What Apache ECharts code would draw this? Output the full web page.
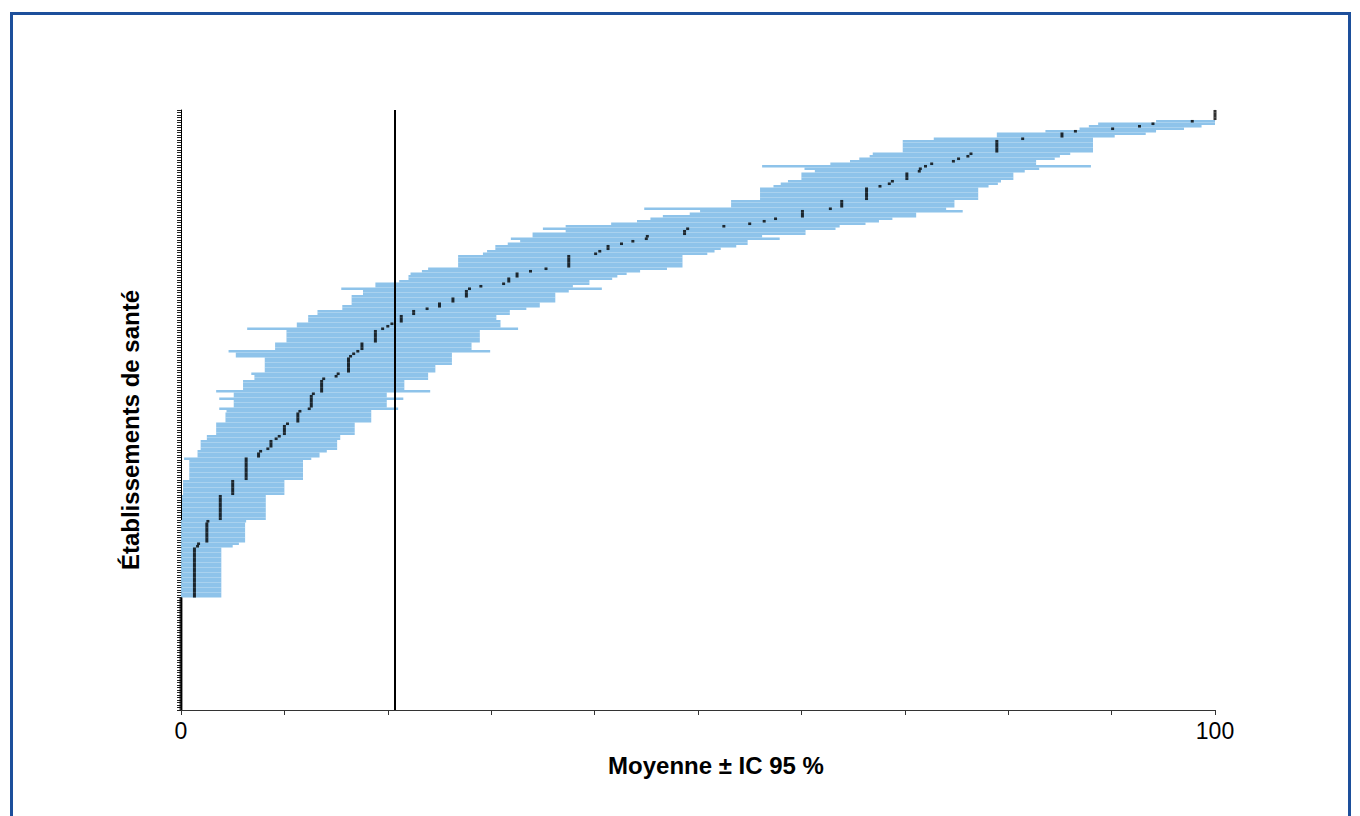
<!DOCTYPE html>
<html>
<head>
<meta charset="utf-8">
<script src="https://cdn.jsdelivr.net/npm/echarts@6/dist/echarts.min.js"></script>
<style>
  html, body { margin: 0; padding: 0; background: #fff; }
  #frame { position: absolute; left: 10px; top: 12px; width: 1341px; height: 900px; border: 3px solid #1d4f9b; box-sizing: border-box; }
  #chart { position: absolute; left: 0; top: 0; width: 1360px; height: 816px; }
</style>
</head>
<body>
<div id="frame"></div>
<div id="chart"></div>
<script>
// Rows from bottom (index 0) to top, sorted by mean
const ciLow = [
  0,0,0,0,0,0,0,0,0,0, 0,0,0,0,0,0,0,0,0,0, 0,0,0,0,0,0,0,0,0,0, 0,0,0,0,0,0,0,0,0,0, 0,0,0,0,0,
  0,0,0,0,0,0,0,0,0,0, 0,0,0,0,0,0,0,0,0,0,
  0,0,0,0,0,0,0,0,0,0,0,
  0.1,0.1,0.1,0.1,0.1,0.1,0.1,0.1,0.1,0.1,
  0.2,0.2,0.2,0.2,0.2,0.2,
  0.8,0.8,0.8,0.8,0.8,0.8,0.8,0.8,
  0.3,
  1.6,1.6,1.6,
  1.9,1.9,1.9,1.9,
  2.5,2.5,
  3.4,3.4,3.4,3.4,3.4,
  4.3,4.3,4.3,4.3,
  4.4, 3.7, 5.1,5.1,5.1, 3.7, 5.1,5.1, 3.4,
  6.0,6.0,6.0,6.0,
  7.1,7.1, 6.8,
  8.1,8.1,8.1,8.1,8.1,8.1,
  5.3,5.3, 4.6,
  9.1,9.1,9.1,
  10.2,10.2,10.2,10.2,10.2,
  6.4,
  11.2,11.2, 12.3,12.3,12.3, 13.2,13.2, 15.6,15.6,
  16.5,16.5,16.5,16.5, 17.6,17.6, 15.5, 18.8,18.8, 21.1,
  22.0,22.0, 22.2, 23.3, 23.9,
  26.8,26.8,26.8,26.8,26.8,
  29.2, 29.6, 30.4,30.4, 31.6, 32.8, 31.9, 34.0,34.0, 37.2,
  35.0, 37.2, 41.6, 44.1, 45.4, 46.6, 49.2, 50.2, 44.8,
  53.2,53.2,53.2,
  56.0,56.0,56.0,56.0,56.0,
  57.3, 58.0, 58.7, 60.0,60.0,60.0, 61.3, 60.3, 56.2, 62.8,
  64.7, 65.6, 66.6, 66.9,
  69.8,69.8,69.8,69.8,69.8,
  72.8, 78.9,78.9, 83.6, 86.9, 87.8, 88.7, 94.3,
  100,100,100,100
];
const ciHigh = [
  0,0,0,0,0,0,0,0,0,0, 0,0,0,0,0,0,0,0,0,0, 0,0,0,0,0,0,0,0,0,0, 0,0,0,0,0,0,0,0,0,0, 0,0,0,0,0,
  3.9,3.9,3.9,3.9,3.9,3.9,3.9,3.9,3.9,3.9, 3.9,3.9,3.9,3.9,3.9,3.9,3.9,3.9,3.9,3.9,
  5.0, 5.6,
  6.2,6.2,6.2,6.2,6.2,6.2,6.2,6.2,
  6.3,
  8.2,8.2,8.2,8.2,8.2,8.2,8.2,8.2,8.2,8.2,
  10.0,10.0,10.0,10.0,10.0,10.0,
  11.8,11.8,11.8,11.8,11.8,11.8,11.8,11.8,
  12.6, 13.4,13.4, 14.1,
  15.1,15.1,15.1,15.1,
  15.4,15.4,
  16.8,16.8,16.8,16.8,16.8,
  18.4,18.4,18.4,18.4,18.4,
  21.0, 19.9,19.9,19.9, 21.5, 19.9,19.9, 24.1,
  21.6,21.6,21.6,21.6,
  23.9,23.9,23.9,
  24.6,24.6,24.6,
  26.2,26.2,26.2,26.2,26.2,
  29.9, 28.1,28.1,28.1,
  28.9,28.9,28.9,28.9,28.9,
  32.6, 30.9,30.9,30.9, 30.5,30.5, 31.8,31.8, 33.4, 34.7,34.7,
  36.2,36.2,36.2,36.2, 37.5, 40.7, 37.9, 39.5,39.5, 41.7,
  42.2, 43.1, 44.4, 47.0,
  48.5,48.5,48.5,48.5,48.5,
  50.9, 51.6, 52.2, 53.7, 54.8,54.8, 57.9, 56.2, 60.4,60.4,
  63.3, 63.7, 66.2, 67.5, 68.8, 71.1,71.1, 75.6, 74.0,
  74.8,74.8,74.8,
  77.1,77.1,77.1,77.1,77.1,
  78.1, 79.0, 79.3, 80.5,80.5,80.5, 81.6, 83.0, 88.0, 82.7,
  82.7, 84.5, 85.0, 86.0,
  88.2,88.2,88.2,88.2,88.2,88.2,
  90.3, 93.3, 94.3, 97.0, 98.7, 100, 100,
  100,100,100,100
];
const means = [
  0,0,0,0,0,0,0,0,0,0, 0,0,0,0,0,0,0,0,0,0, 0,0,0,0,0,0,0,0,0,0, 0,0,0,0,0,0,0,0,0,0, 0,0,0,0,0,
  1.3,1.3,1.3,1.3,1.3,1.3,1.3,1.3,1.3,1.3, 1.3,1.3,1.3,1.3,1.3,1.3,1.3,1.3,1.3,1.3,
  1.6, 1.7,
  2.5,2.5,2.5,2.5,2.5,2.5,2.5,2.5,
  2.6,
  3.8,3.8,3.8,3.8,3.8,3.8,3.8,3.8,3.8,3.8,
  5.0,5.0,5.0,5.0,5.0,5.0,
  6.3,6.3,6.3,6.3,6.3,6.3,6.3,6.3,6.3,
  7.5,7.5, 7.7, 8.4, 8.7,8.7,8.7, 9.2, 9.5,
  10.0,10.0,10.0,10.0, 10.3,
  11.3,11.3,11.3,11.3, 11.5, 12.4,
  12.6,12.6,12.6,12.6,12.6, 12.8,
  13.6,13.6,13.6,13.6,13.6, 13.8, 15.0, 15.2,
  16.2,16.2,16.2,16.2,16.2,16.2,
  16.4, 16.7, 17.1, 17.5,17.5,17.5,
  18.8,18.8,18.8,18.8,18.8,
  19.5, 20.0, 20.4, 21.3,21.3,21.3, 22.5,22.5, 23.8, 25.0,25.0,
  26.3,26.3, 27.6,27.6,27.6, 27.9, 29.0, 31.2, 31.7,31.7,
  32.5,32.5, 33.8, 35.3,
  37.5,37.5,37.5,37.5,37.5,
  40.1, 40.5, 41.3,41.3, 42.6, 43.7, 45.0, 45.1, 48.7,48.7,
  49.0, 52.5, 55.0, 56.4, 57.5, 60.1,60.1,60.1, 62.8,
  63.9,63.9,63.9,
  66.3,66.3,66.3,66.3,66.3,
  67.6, 68.5, 68.8, 70.2,70.2,70.2, 71.4, 71.5, 72.0, 72.6,
  74.7, 75.2, 76.1, 76.4,
  78.9,78.9,78.9,78.9,78.9,
  81.4, 85.2,85.2, 86.5, 90.1, 92.7, 94.0, 97.8,
  100,100,100,100
];
const referenceMean = 20.7;
const xTickLabels = [0, 100];
const xAxisTitle = 'Moyenne ± IC 95 %';
const yAxisTitle = 'Établissements de santé';

const establishments = means.map((_, i) => 'E' + (i + 1));
const ciWidth = ciHigh.map((h, i) => +(h - ciLow[i]).toFixed(2));

const chart = echarts.init(document.getElementById('chart'), null, { renderer: 'svg' });
chart.setOption({
  animation: false,
  backgroundColor: 'transparent',
  grid: { left: 181, right: 145, top: 110, bottom: 106, containLabel: false },
  xAxis: {
    type: 'value', min: 0, max: 100, interval: 10,
    name: xAxisTitle, nameLocation: 'middle', nameGap: 43,
    nameTextStyle: { fontFamily: 'Liberation Sans, Arial, sans-serif', fontSize: 24, fontWeight: 'bold', color: '#000', padding: [0, 0, 0, 36] },
    axisLine: { show: true, lineStyle: { color: '#333', width: 1 } },
    axisTick: { show: true, length: 5, lineStyle: { color: '#333' } },
    axisLabel: {
      fontFamily: 'Liberation Sans, Arial, sans-serif', fontSize: 23, color: '#000', margin: 9,
      formatter: v => (xTickLabels.indexOf(v) >= 0 ? String(v) : '')
    },
    splitLine: { show: false }
  },
  yAxis: {
    type: 'category', data: establishments,
    name: yAxisTitle, nameLocation: 'middle', nameGap: 39, nameRotate: 90,
    nameTextStyle: { fontFamily: 'Liberation Sans, Arial, sans-serif', fontSize: 24, fontWeight: 'bold', color: '#000', padding: [0, 40, 0, 0] },
    axisLine: { show: true, lineStyle: { color: '#000', width: 1 } },
    axisTick: { show: true, interval: 0, length: 4, lineStyle: { color: '#222', width: 1 } },
    axisLabel: { show: false },
    splitLine: { show: false }
  },
  series: [
    {
      name: 'base', type: 'bar', stack: 'ci', data: ciLow, silent: true,
      itemStyle: { color: 'rgba(0,0,0,0)' }, barCategoryGap: '2%'
    },
    {
      name: 'IC 95 %', type: 'bar', stack: 'ci', data: ciWidth, silent: true,
      itemStyle: { color: '#8ec3ea' }, barCategoryGap: '2%'
    },
    {
      name: 'Moyenne', type: 'scatter', data: means.map((m, i) => [m, i]),
      symbol: 'rect', symbolSize: [3, 2.6], itemStyle: { color: '#000' }, silent: true, z: 5,
      markLine: {
        silent: true, symbol: ['none', 'none'], label: { show: false },
        lineStyle: { color: '#000', width: 2, type: 'solid' },
        data: [{ xAxis: referenceMean }]
      }
    }
  ]
});
</script>
</body>
</html>
